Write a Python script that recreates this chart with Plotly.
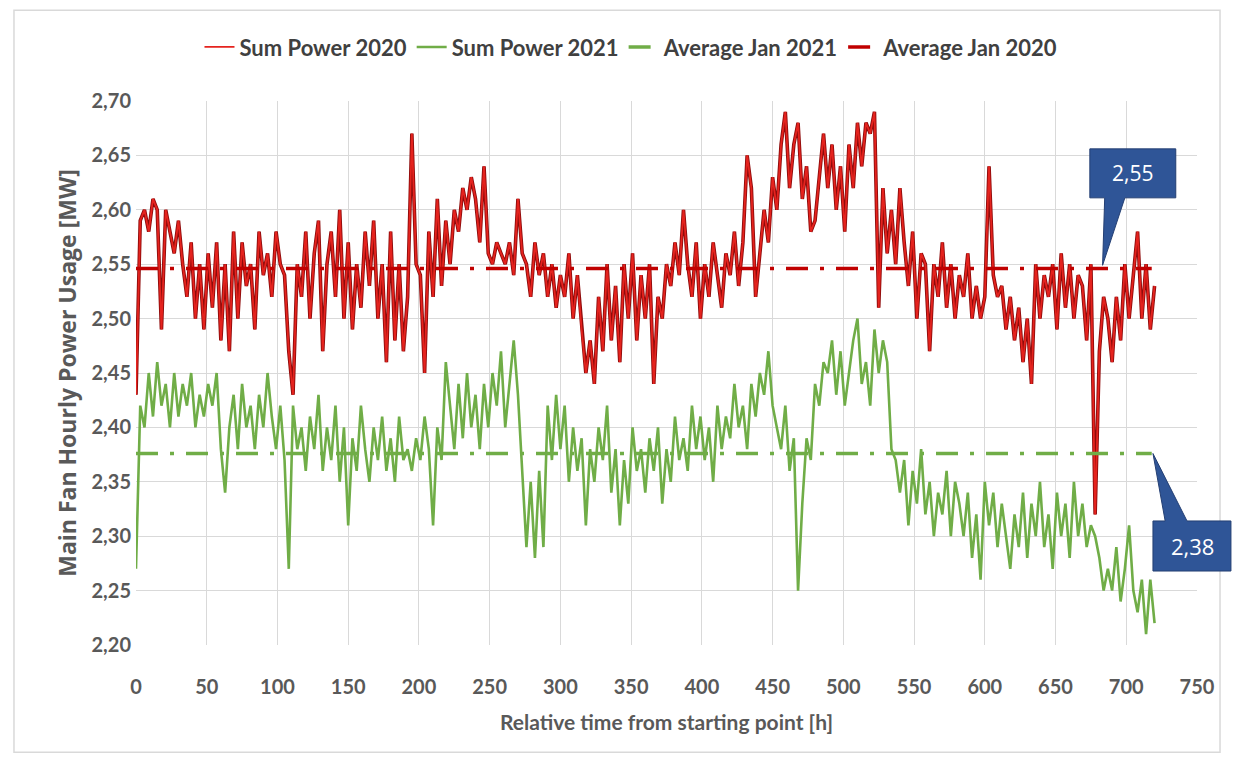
import plotly.graph_objects as go

# ---------------- data ----------------
hours_step = 3
sum_power_2020 = [
    2.43, 2.59, 2.60, 2.58, 2.61, 2.60, 2.49, 2.60, 2.58, 2.56,
    2.59, 2.55, 2.52, 2.57, 2.50, 2.55, 2.49, 2.56, 2.51, 2.57,
    2.48, 2.55, 2.47, 2.58, 2.50, 2.57, 2.53, 2.55, 2.49, 2.58,
    2.54, 2.56, 2.52, 2.58, 2.55, 2.54, 2.47, 2.43, 2.55, 2.52,
    2.58, 2.50, 2.56, 2.59, 2.47, 2.55, 2.58, 2.52, 2.60, 2.50,
    2.57, 2.49, 2.55, 2.51, 2.58, 2.53, 2.59, 2.50, 2.55, 2.46,
    2.58, 2.48, 2.55, 2.47, 2.52, 2.67, 2.55, 2.54, 2.45, 2.58,
    2.52, 2.61, 2.53, 2.59, 2.55, 2.60, 2.58, 2.62, 2.60, 2.63,
    2.61, 2.57, 2.64, 2.56, 2.55, 2.57, 2.56, 2.55, 2.57, 2.54,
    2.61, 2.56, 2.55, 2.52, 2.57, 2.54, 2.56, 2.52, 2.55, 2.51,
    2.54, 2.52, 2.56, 2.50, 2.54, 2.49, 2.45, 2.48, 2.44, 2.52,
    2.47, 2.55, 2.48, 2.53, 2.46, 2.55, 2.50, 2.56, 2.48, 2.54,
    2.50, 2.55, 2.44, 2.52, 2.50, 2.55, 2.53, 2.57, 2.54, 2.60,
    2.55, 2.52, 2.57, 2.50, 2.55, 2.52, 2.57, 2.54, 2.51, 2.56,
    2.54, 2.58, 2.53, 2.57, 2.65, 2.62, 2.52, 2.56, 2.60, 2.57,
    2.63, 2.60, 2.66, 2.69, 2.62, 2.66, 2.68, 2.61, 2.64, 2.58,
    2.59, 2.63, 2.67, 2.62, 2.66, 2.60, 2.64, 2.58, 2.66, 2.62,
    2.68, 2.64, 2.68, 2.67, 2.69, 2.51, 2.62, 2.56, 2.60, 2.55,
    2.62, 2.57, 2.53, 2.58, 2.50, 2.56, 2.55, 2.47, 2.55, 2.52,
    2.57, 2.51, 2.55, 2.50, 2.54, 2.52, 2.56, 2.50, 2.53, 2.50,
    2.52, 2.64, 2.54, 2.52, 2.53, 2.49, 2.52, 2.48, 2.51, 2.46,
    2.50, 2.44, 2.55, 2.50, 2.54, 2.52, 2.55, 2.49, 2.56, 2.51,
    2.55, 2.50, 2.54, 2.53, 2.48, 2.55, 2.32, 2.47, 2.52, 2.50,
    2.46, 2.52, 2.48, 2.55, 2.50, 2.54, 2.58, 2.50, 2.55, 2.49,
    2.53,
]
sum_power_2021 = [
    2.27, 2.42, 2.40, 2.45, 2.41, 2.46, 2.42, 2.44, 2.40, 2.45,
    2.41, 2.44, 2.42, 2.45, 2.40, 2.43, 2.41, 2.44, 2.42, 2.45,
    2.38, 2.34, 2.40, 2.43, 2.38, 2.44, 2.40, 2.42, 2.38, 2.43,
    2.40, 2.45, 2.41, 2.38, 2.42, 2.37, 2.27, 2.42, 2.38, 2.40,
    2.36, 2.41, 2.38, 2.43, 2.36, 2.40, 2.37, 2.42, 2.35, 2.40,
    2.31, 2.39, 2.36, 2.42, 2.38, 2.35, 2.40, 2.37, 2.41, 2.36,
    2.39, 2.35, 2.41, 2.37, 2.38, 2.36, 2.39, 2.37, 2.41, 2.38,
    2.31, 2.40, 2.37, 2.46, 2.42, 2.38, 2.44, 2.39, 2.45, 2.40,
    2.43, 2.38, 2.44, 2.40, 2.45, 2.42, 2.47, 2.40, 2.44, 2.48,
    2.43, 2.36, 2.29, 2.35, 2.28, 2.36, 2.29, 2.42, 2.37, 2.43,
    2.38, 2.42, 2.35, 2.40, 2.36, 2.39, 2.31, 2.38, 2.35, 2.40,
    2.37, 2.42, 2.34, 2.38, 2.31, 2.37, 2.33, 2.40, 2.36, 2.38,
    2.34, 2.39, 2.36, 2.40, 2.33, 2.38, 2.35, 2.41, 2.37, 2.39,
    2.36, 2.42, 2.38, 2.41, 2.37, 2.40, 2.35, 2.42, 2.38, 2.41,
    2.39, 2.44, 2.40, 2.42, 2.38, 2.44, 2.41, 2.45, 2.43, 2.47,
    2.42, 2.40, 2.38, 2.42, 2.36, 2.39, 2.25, 2.33, 2.39, 2.37,
    2.44, 2.42, 2.46, 2.45, 2.48, 2.43, 2.47, 2.42, 2.45, 2.48,
    2.50, 2.44, 2.46, 2.42, 2.49, 2.45, 2.48, 2.46, 2.38, 2.37,
    2.34, 2.37, 2.31, 2.36, 2.33, 2.38, 2.32, 2.35, 2.30, 2.34,
    2.32, 2.36, 2.30, 2.35, 2.33, 2.30, 2.34, 2.28, 2.32, 2.26,
    2.35, 2.31, 2.34, 2.29, 2.33, 2.30, 2.27, 2.32, 2.29, 2.34,
    2.28, 2.33, 2.30, 2.35, 2.29, 2.32, 2.27, 2.34, 2.30, 2.33,
    2.28, 2.35, 2.30, 2.33, 2.29, 2.31, 2.30, 2.28, 2.25, 2.27,
    2.25, 2.29, 2.24, 2.27, 2.31, 2.25, 2.23, 2.26, 2.21, 2.26,
    2.22,
]
average_jan_2020 = 2.546
average_jan_2021 = 2.376
avg_span = [0, 718]
x_ticks = list(range(0, 751, 50))
y_range = [2.20, 2.70]

hours = [i * hours_step for i in range(len(sum_power_2020))]

FONT = "Lato, sans-serif"
TXT = "#595959"

fig = go.Figure()
# dark edge under the 2020 line
fig.add_trace(go.Scatter(x=hours, y=sum_power_2020, mode="lines",
                         line=dict(color="#8E0B0B", width=3.6),
                         showlegend=False, hoverinfo="skip"))
fig.add_trace(go.Scatter(x=hours, y=sum_power_2020, mode="lines",
                         name="Sum Power 2020",
                         line=dict(color="#E5231E", width=1.8)))
fig.add_trace(go.Scatter(x=hours, y=sum_power_2021, mode="lines",
                         name="Sum Power 2021",
                         line=dict(color="#70AD47", width=2.6)))
fig.add_trace(go.Scatter(x=avg_span, y=[average_jan_2021] * 2, mode="lines",
                         name="Average Jan 2021",
                         line=dict(color="#70AD47", width=3.6,
                                   dash="22px,12px,4px,12px")))
fig.add_trace(go.Scatter(x=avg_span, y=[average_jan_2020] * 2, mode="lines",
                         name="Average Jan 2020",
                         line=dict(color="#C00000", width=3.6,
                                   dash="22px,12px,4px,12px")))

# ---- callouts (positions in plot-area fractions) ----
def yfrac(v):
    return (v - y_range[0]) / (y_range[1] - y_range[0])

BOX = "#2F5597"
t1 = yfrac(average_jan_2020) + 0.006
fig.add_shape(type="path", xref="paper", yref="paper",
              path=(f"M 0.899 0.912 L 0.980 0.912 L 0.980 0.822 L 0.932 0.822 "
                    f"L 0.911 {t1:.3f} L 0.913 0.822 L 0.899 0.822 Z"),
              fillcolor=BOX, line=dict(color="#243F73", width=1), layer="above")
fig.add_annotation(xref="paper", yref="paper", x=0.9395, y=0.867,
                   xanchor="center", yanchor="middle",
                   text=f"{average_jan_2020:.2f}".replace(".", ","),
                   showarrow=False,
                   font=dict(family="Open Sans, sans-serif", size=21, color="white"))
t2 = yfrac(average_jan_2021)
fig.add_shape(type="path", xref="paper", yref="paper",
              path=(f"M 0.9585 0.228 L 0.9585 0.136 L 1.032 0.136 L 1.032 0.228 "
                    f"L 0.9906 0.228 L 0.9585 {t2:.3f} L 0.970 0.228 Z"),
              fillcolor=BOX, line=dict(color="#243F73", width=1), layer="above")
fig.add_annotation(xref="paper", yref="paper", x=0.9955, y=0.182,
                   xanchor="center", yanchor="middle",
                   text=f"{average_jan_2021:.2f}".replace(".", ","),
                   showarrow=False,
                   font=dict(family="Open Sans, sans-serif", size=22, color="white"))

# outer chart border
fig.add_shape(type="rect", xref="paper", yref="paper",
              x0=-0.115, x1=1.0217, y0=-0.197, y1=1.167,
              line=dict(color="#D9D9D9", width=1.5), layer="below")

fig.update_layout(
    width=1233, height=765,
    margin=dict(l=136, r=36, t=101, b=120),
    paper_bgcolor="white", plot_bgcolor="white",
    separators=",.",
    font=dict(family=FONT, color=TXT, size=18),
    legend=dict(orientation="h", x=0.467, y=1.099, xanchor="center", yanchor="middle",
                font=dict(family=FONT, size=22, color="#404040", weight="bold"),
                itemwidth=30, tracegroupgap=0, bgcolor="rgba(0,0,0,0)"),
    xaxis=dict(range=[0, 750], tickvals=x_ticks, showgrid=True,
               gridcolor="#D9D9D9", gridwidth=1, zeroline=False, showline=False,
               ticklabelstandoff=28,
               tickfont=dict(family=FONT, size=20, color=TXT, weight="bold"),
               title=dict(text="Relative time from starting point [h]",
                          font=dict(family=FONT, size=21, color=TXT, weight="bold"),
                          standoff=18)),
    yaxis=dict(range=y_range, dtick=0.05, tickformat=".2f", showgrid=True,
               gridcolor="#D9D9D9", gridwidth=1, zeroline=False, showline=False,
               ticklabelstandoff=4,
               tickfont=dict(family=FONT, size=20, color=TXT, weight="bold"),
               title=dict(text="Main Fan Hourly Power Usage [MW]",
                          font=dict(family="Open Sans, sans-serif", size=23,
                                    color=TXT, weight="bold"),
                          standoff=8)),
    showlegend=True,
)

fig.write_html("out.html")
